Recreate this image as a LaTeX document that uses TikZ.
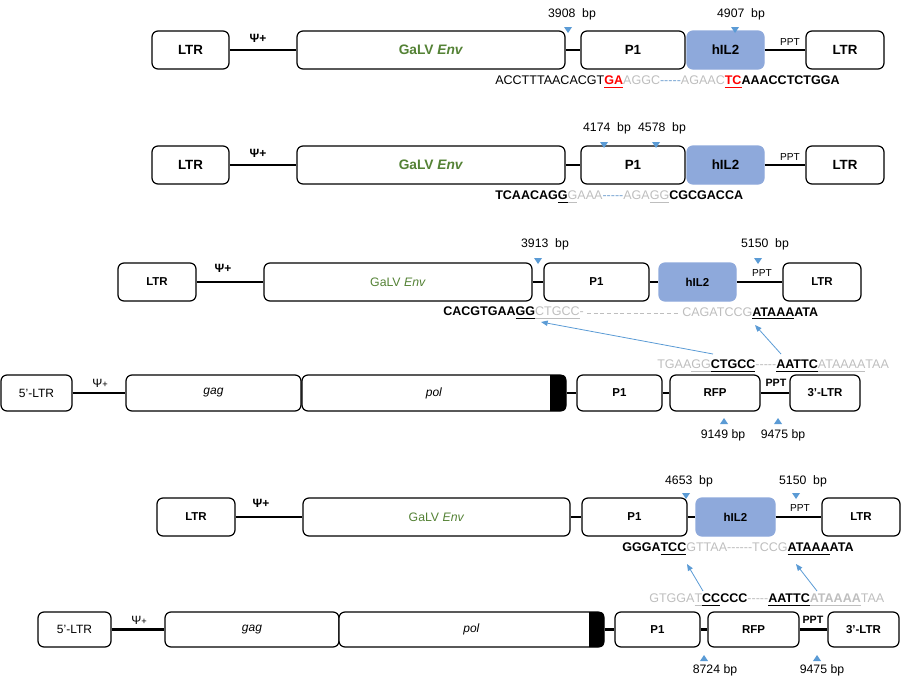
\documentclass[tikz,border=0pt]{standalone}
\usepackage{fontspec}
\setmainfont{Liberation Sans}
\usetikzlibrary{arrows.meta}
\definecolor{ilblue}{RGB}{142,169,219}
\definecolor{mkblue}{RGB}{91,155,213}
\definecolor{envgreen}{RGB}{84,130,53}
\definecolor{sgrey}{RGB}{190,190,190}
\definecolor{dblue}{RGB}{120,165,210}
\newcommand\sgr[1]{{\color{sgrey}#1}}
\newcommand\myul[1]{\underline{#1}}
\newcommand\dsh{-{}-{}-{}-{}-}
\begin{document}
\begin{tikzpicture}[x=0.75pt,y=-0.75pt,
  box/.style={draw, rounded corners=4.5pt, line width=0.9pt, inner sep=0pt, fill=white},
  sz/.style 2 args={minimum width=#1*0.75pt, minimum height=#2*0.75pt},
  bigl/.style={font=\fontsize{10}{12}\selectfont\bfseries},
  midl/.style={font=\fontsize{8.6}{10}\selectfont\bfseries},
  reg/.style={font=\fontsize{9}{10}\selectfont},
  envl/.style={text=envgreen, font=\fontsize{10.3}{12}\selectfont\bfseries},
  envs/.style={text=envgreen, font=\fontsize{9.2}{11}\selectfont},
  conn/.style={line width=1.6pt},
  seq/.style={anchor=west, inner sep=0pt, font=\fontsize{9.4}{11}\selectfont},
  bp/.style={inner sep=0pt, font=\fontsize{9.2}{11}\selectfont},
  ppt/.style={inner sep=0pt, font=\fontsize{7.6}{9}\selectfont},
  pptb/.style={inner sep=0pt, font=\fontsize{8}{9}\selectfont\bfseries},
  psi/.style={inner sep=0pt, font=\fontsize{9}{10}\selectfont\bfseries},
  psis/.style={inner sep=0pt, font=\fontsize{9}{10}\selectfont},
  link/.style={draw=mkblue, line width=0.6pt, -{Triangle[length=5pt,width=4pt]}},
  dmark/.pic={\fill[mkblue] (-4,-4) -- (4,-4) -- (0,2) -- cycle;},
  umark/.pic={\fill[mkblue] (-4,4) -- (4,4) -- (0,-2) -- cycle;}
]
\useasboundingbox (0,0) rectangle (915,686);

% ---------- Row 1 ----------
\node[box, sz={77}{38}, bigl] (ltrA) at (190.5,50) {LTR};
\node[box, sz={268}{38}, envl] (envA) at (431,50) {GaLV \textit{Env}};
\node[box, sz={104}{38}, bigl] (p1A) at (633,50) {P1};
\node[box, sz={77}{38}, fill=ilblue, draw=ilblue, bigl] (ilA) at (725.5,50) {hIL2};
\node[box, sz={78}{38}, bigl] (ltrA2) at (845,50) {LTR};
\draw[conn] (ltrA.east) -- (envA.west);
\draw[conn] (envA.east) -- (p1A.west);
\draw[conn] (ilA.east) -- (ltrA2.west);
\node[psi] (psiA) at (258,38) {Ψ+};
\node[ppt] (pptA) at (790,42) {PPT};
\node[bp] (bpA1) at (572,14) {3908~~bp};
\node[bp] (bpA2) at (741,14) {4907~~bp};
\pic at (568,31) {dmark};
\pic at (735,31) {dmark};
\node[seq] (seqA) at (495,82) {ACCTTTAACACGT\textcolor{red}{\textbf{\myul{GA}}}\sgr{AGGC}\textcolor{dblue}{\dsh}\sgr{AGAAC}\textcolor{red}{\textbf{\myul{TC}}}\textbf{AAACCTCTGGA}};

% ---------- Row 2 ----------
\node[box, sz={77}{38}, bigl] (ltrB) at (190.5,165) {LTR};
\node[box, sz={268}{38}, envl] (envB) at (431,165) {GaLV \textit{Env}};
\node[box, sz={104}{38}, bigl] (p1B) at (633,165) {P1};
\node[box, sz={77}{38}, fill=ilblue, draw=ilblue, bigl] (ilB) at (725.5,165) {hIL2};
\node[box, sz={78}{38}, bigl] (ltrB2) at (845,165) {LTR};
\draw[conn] (ltrB.east) -- (envB.west);
\draw[conn] (envB.east) -- (p1B.west);
\draw[conn] (ilB.east) -- (ltrB2.west);
\node[psi] (psiB) at (258,153) {Ψ+};
\node[ppt] (pptB) at (790,157) {PPT};
\node[bp] (bpB1) at (607,128) {4174~~bp};
\node[bp] (bpB2) at (662,128) {4578~~bp};
\pic at (604,146) {dmark};
\pic at (656,146) {dmark};
\node[seq] (seqB) at (495,197) {\textbf{TCAACAG\myul{G}}\sgr{\myul{G}AAA}\textcolor{dblue}{\dsh}\sgr{AGA\myul{GG}}\textbf{CGCGACCA}};

% ---------- Row 3 ----------
\node[box, sz={78}{38}, midl] (ltrC) at (157,282) {LTR};
\node[box, sz={268}{38}, envs] (envC) at (398,282) {GaLV \textit{Env}};
\node[box, sz={105}{38}, midl] (p1C) at (596.5,282) {P1};
\node[box, sz={77}{38}, fill=ilblue, draw=ilblue, midl] (ilC) at (697.5,282) {hIL2};
\node[box, sz={78}{38}, midl] (ltrC2) at (822,282) {LTR};
\draw[conn] (ltrC.east) -- (envC.west);
\draw[conn] (envC.east) -- (p1C.west);
\draw[conn] (p1C.east) -- (ilC.west);
\draw[conn] (ilC.east) -- (ltrC2.west);
\node[psi] (psiC) at (223,268) {Ψ+};
\node[ppt] (pptC) at (762,273) {PPT};
\node[bp] (bpC1) at (545,244) {3913~~bp};
\node[bp] (bpC2) at (765,244) {5150~~bp};
\pic at (538,262) {dmark};
\pic at (758,262) {dmark};
\node[seq] (seqC1) at (443,313) {\textbf{CACGTGAA\myul{GG}}\sgr{\myul{CTGCC}-}};
\node[seq] (seqC2) at (682,313) {\sgr{CAGATCCG}\textbf{\myul{ATAAA}ATA}};
\draw[sgrey, line width=0.5pt, dash pattern=on 3pt off 2pt] ([xshift=2pt]seqC1.east) -- ([xshift=-2pt]seqC2.west);

% ---------- Row 4 ----------
\node[box, sz={71}{36}, reg] (ltrD) at (36.5,393) {5’-LTR};
\node[box, sz={175}{36}, reg] (gagD) at (213.5,393) {\textit{gag}};
\node[box, sz={264}{36}, reg] (polD) at (434,393) {\textit{pol}};
\fill (550,375) [rounded corners=2.5pt] -- (566,375) -- (566,411) [sharp corners] -- (550,411) -- cycle;
\node[box, sz={85}{36}, midl] (p1D) at (619.5,393) {P1};
\node[box, sz={90}{36}, midl] (rfpD) at (715,393) {RFP};
\node[box, sz={70}{36}, midl] (ltrD2) at (825,393) {3’-LTR};
\draw[conn] (ltrD.east) -- (gagD.west);
\draw[conn] (polD.east) -- (p1D.west);
\draw[conn] (p1D.east) -- (rfpD.west);
\draw[conn] (rfpD.east) -- (ltrD2.west);
\node[psis] (psiD) at (100,383) {Ψ{\fontsize{7}{7}\selectfont+}};
\node[pptb] (pptD) at (776,383) {PPT};
\pic at (724,420) {umark};
\pic at (778,420) {umark};
\node[bp] (bpD1) at (723,435) {9149 bp};
\node[bp] (bpD2) at (783,435) {9475 bp};
\node[seq] (seqD) at (657,366) {\sgr{TGAA\myul{GG}}\textbf{\myul{CTGCC}}\sgr{\dsh}\textbf{\myul{AATTC}}\sgr{\myul{ATAAAA}TAA}};

\coordinate (a1s) at (713,354);
\coordinate (a1e) at (541,322);
\coordinate (a2s) at (781,354);
\coordinate (a2e) at (755,325);
\draw[link] (a1s) -- (a1e);
\draw[link] (a2s) -- (a2e);

% ---------- Row 5 ----------
\node[box, sz={78}{38}, midl] (ltrE) at (196,517) {LTR};
\node[box, sz={267}{38}, envs] (envE) at (436.5,517) {GaLV \textit{Env}};
\node[box, sz={105}{38}, midl] (p1E) at (634.5,517) {P1};
\node[box, sz={79}{38}, fill=ilblue, draw=ilblue, midl] (ilE) at (735.5,517) {hIL2};
\node[box, sz={78}{38}, midl] (ltrE2) at (861,517) {LTR};
\draw[conn] (ltrE.east) -- (envE.west);
\draw[conn] (envE.east) -- (p1E.west);
\draw[conn] (p1E.east) -- (ilE.west);
\draw[conn] (ilE.east) -- (ltrE2.west);
\node[psi] (psiE) at (261,503) {Ψ+};
\node[ppt] (pptE) at (800,508) {PPT};
\node[bp] (bpE1) at (689,481) {4653~~bp};
\node[bp] (bpE2) at (803,481) {5150~~bp};
\pic at (686,497) {dmark};
\pic at (796,497) {dmark};
\node[seq] (seqE) at (622,549) {\textbf{GGGA\myul{TCC}}\sgr{GTTAA-{}-{}-{}-{}-{}-TCCG}\textbf{\myul{ATAAA}ATA}};

% ---------- Row 6 ----------
\node[box, sz={73}{35}, reg] (ltrF) at (74.5,629.5) {5’-LTR};
\node[box, sz={174}{35}, reg] (gagF) at (252,629.5) {\textit{gag}};
\node[box, sz={265}{35}, reg] (polF) at (471.5,629.5) {\textit{pol}};
\fill (589,612) [rounded corners=2.5pt] -- (604,612) -- (604,647) [sharp corners] -- (589,647) -- cycle;
\node[box, sz={85}{35}, midl] (p1F) at (657.5,629.5) {P1};
\node[box, sz={91}{35}, midl] (rfpF) at (753.5,629.5) {RFP};
\node[box, sz={71}{35}, midl] (ltrF2) at (863.5,629.5) {3’-LTR};
\draw[conn] (ltrF.east) -- (gagF.west);
\draw[conn] (polF.east) -- (p1F.west);
\draw[conn] (p1F.east) -- (rfpF.west);
\draw[conn] (rfpF.east) -- (ltrF2.west);
\node[psis] (psiF) at (139,620) {Ψ{\fontsize{7}{7}\selectfont+}};
\node[pptb] (pptF) at (813,620) {PPT};
\pic at (704,657) {umark};
\pic at (817,657) {umark};
\node[bp] (bpF1) at (715,670) {8724 bp};
\node[bp] (bpF2) at (822,670) {9475 bp};
\node[seq] (seqF) at (649,600) {\sgr{GTGGA\myul{T}}\textbf{\myul{CC}CCC}\sgr{\dsh}\textbf{\myul{AATTC}}\sgr{\textbf{\myul{ATAAAA}}TAA}};

\coordinate (b1s) at (703,591);
\coordinate (b1e) at (687,564);
\coordinate (b2s) at (817,591);
\coordinate (b2e) at (796,564);
\draw[link] (b1s) -- (b1e);
\draw[link] (b2s) -- (b2e);
\end{tikzpicture}
\end{document}
